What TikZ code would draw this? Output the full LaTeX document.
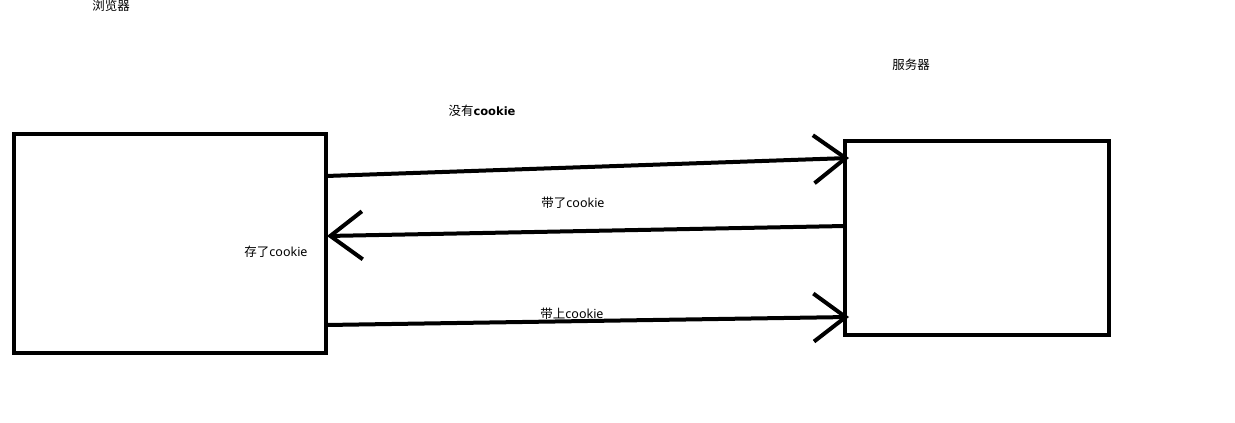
\documentclass[tikz,border=0pt]{standalone}
\usepackage{fontspec}
\setmainfont{Noto Sans}
\newfontfamily\cjk{Noto Sans CJK SC}
\newfontfamily\heavy{DejaVu Sans}
\usepackage{tikz}
\usetikzlibrary{arrows.meta}
\tikzset{
    end-box/.style = {draw=black, line width=4pt, rectangle, inner sep=0pt},
    msg-arrow/.style = {draw=black, line width=4pt, -{Straight Barb[length=32pt, width=48pt]}},
    msg-label/.style = {font=\fontsize{12.5}{15}\selectfont, inner sep=0pt},
}

\begin{document}
\begin{tikzpicture}[x=1pt, y=-1pt]
\useasboundingbox (0,0) rectangle (1235,423);
% the two ends
\node [end-box, minimum width=312pt, minimum height=219pt] (browser) at (170,243.5) {};
\node [end-box, minimum width=264pt, minimum height=194pt] (server) at (977,238) {};
\node [msg-label] (browser-title) at (111,6) {\cjk 浏览器};
\node [msg-label] (server-title) at (911,65) {\cjk 服务器};
% message ends
\coordinate (req-start) at (326,176);
\coordinate (req-end) at (849,158);
\coordinate (resp-start) at (845,226);
\coordinate (resp-end) at (327,236);
\coordinate (next-start) at (326,325);
\coordinate (next-end) at (849,317);
% messages
\draw [msg-arrow] (req-start) -- (req-end);
\draw [msg-arrow] (resp-start) -- (resp-end);
\draw [msg-arrow] (next-start) -- (next-end);
\node [msg-label] (req-label) at (482,111) {{\cjk 没有}{\heavy\bfseries\fontsize{11.5}{15}\selectfont cookie}};
\node [msg-label] (resp-label) at (573,203) {{\cjk 带了}cookie};
\node [msg-label] (store-label) at (276,252) {{\cjk 存了}cookie};
\node [msg-label] (next-label) at (572,314) {{\cjk 带上}cookie};
\end{tikzpicture}
\end{document}
